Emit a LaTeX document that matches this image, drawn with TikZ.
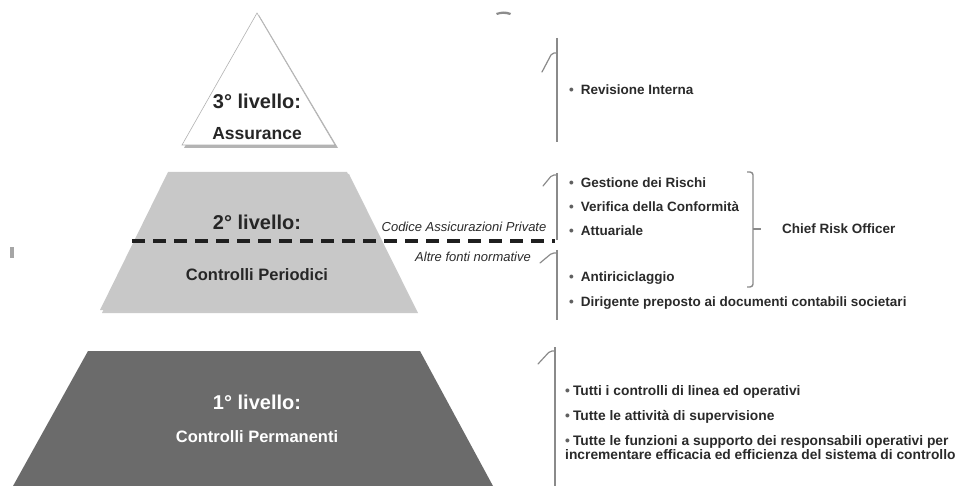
\documentclass[tikz,border=0pt]{standalone}
\usepackage{fontspec}
\setmainfont{Liberation Sans}
\definecolor{lightpyr}{HTML}{C8C8C8}
\definecolor{darkpyr}{HTML}{6B6B6B}
\definecolor{txtdark}{HTML}{262626}
\definecolor{itemc}{HTML}{2A2A2A}
\definecolor{brkgray}{HTML}{8A8A8A}
\definecolor{bulc}{HTML}{606060}
\definecolor{shadowc}{HTML}{B4B4B4}
\newcommand{\bul}{{\color{bulc}\textbullet}\hspace{7pt}}
\newcommand{\bulb}{{\color{bulc}\textbullet}\hspace{3pt}}
\begin{document}
\begin{tikzpicture}[x=1pt,y=-1pt,
  lvl/.style={font=\bfseries\fontsize{20}{24}\selectfont, text=txtdark, inner sep=0},
  sub/.style={font=\bfseries\fontsize{16.5}{20}\selectfont, text=txtdark, inner sep=0},
  item/.style={anchor=west, font=\bfseries\fontsize{13.5}{15}\selectfont, text=itemc, inner sep=0},
  itemb/.style={anchor=west, font=\bfseries\fontsize{13.8}{14}\selectfont, text=itemc, inner sep=0},
  law/.style={font=\itshape\fontsize{13}{15}\selectfont, text=itemc, inner sep=0},
  brk/.style={draw=brkgray, line width=1.4pt},
  hook/.style={draw=brkgray, line width=1.2pt, line cap=round, rounded corners=2pt},
  dashline/.style={draw=black!88, line width=3.5pt, dash pattern=on 13pt off 8pt}]
\useasboundingbox (0,0) rectangle (955,486);
% small artifacts
\fill[black!45] (496,13) .. controls (502,11) and (506,11) .. (511,13) -- (510,15) .. controls (505,13.5) and (501,13.5) .. (497,15) -- cycle;
\fill[black!35] (10,247) rectangle (14,258);
% level 3 triangle
\fill[shadowc] (259,15) -- (338,148) -- (184,148) -- cycle;
\draw[draw=black!30, fill=white, line width=0.6pt] (257,13) -- (335,145) -- (182,145) -- cycle;
% level 2 trapezoid
\fill[shadowc!70] (170,174) -- (349,174) -- (418,313) -- (102,313) -- cycle;
\fill[lightpyr] (168,172) -- (347,172) -- (415,310) -- (100,310) -- cycle;
% level 1 trapezoid
\fill[darkpyr] (88,351) -- (420,351) -- (493,486) -- (13,486) -- cycle;
% dashed separator
\coordinate (dashL) at (132,241);
\coordinate (dashR) at (555,241);
\draw[dashline] (dashL) -- (dashR);
% pyramid labels
\node[lvl] (l3) at (257,101) {3° livello:};
\node[sub, font=\bfseries\fontsize{17.5}{20}\selectfont] (l3s) at (257,134) {Assurance};
\node[lvl] (l2) at (257,222) {2° livello:};
\node[sub] (l2s) at (257,275) {Controlli Periodici};
\node[lvl, text=white] (l1) at (257,402) {1° livello:};
\node[sub, text=white] (l1s) at (257,437) {Controlli Permanenti};
% law labels
\node[law] (codice) at (464,227) {Codice Assicurazioni Private};
\node[law] (altre) at (473,257) {Altre fonti normative};
% brackets
\coordinate (b3t) at (557,38);  \coordinate (b3b) at (557,142);
\draw[brk] (b3t) -- (b3b);
\draw[hook] (557,53) -- (552,53) -- (542,72);
\coordinate (b2t) at (557,173); \coordinate (b2b) at (557,240);
\draw[brk] (b2t) -- (b2b);
\draw[hook] (557,175) -- (552,175) -- (543,186);
\coordinate (b2ct) at (557,250); \coordinate (b2cb) at (557,320);
\draw[brk] (b2ct) -- (b2cb);
\draw[hook] (557,253) -- (552,253) -- (540,263);
\coordinate (b1t) at (555,347); \coordinate (b1b) at (555,486);
\draw[brk] (b1t) -- (b1b);
\draw[hook] (555,351) -- (550,351) -- (538,364);
% right bracket
\draw[brk, rounded corners=3pt] (747,172) -- (753,172) -- (753,287) -- (747,287);
\coordinate (tickA) at (753,229); \coordinate (tickB) at (761,229);
\draw[brk] (tickA) -- (tickB);
% items
\node[item] (rev) at (569,90) {\bul Revisione Interna};
\node[item] (ges) at (569,183) {\bul Gestione dei Rischi};
\node[item] (ver) at (569,207) {\bul Verifica della Conformità};
\node[item] (att) at (569,231) {\bul Attuariale};
\node[item] (ant) at (569,278) {\bul Antiriciclaggio};
\node[item] (dir) at (569,303) {\bul Dirigente preposto ai documenti contabili societari};
\node[item] (cro) at (782,229) {Chief Risk Officer};
\node[itemb] (tut1) at (565,392) {\bulb Tutti i controlli di linea ed operativi};
\node[itemb] (tut2) at (565,417) {\bulb Tutte le attività di supervisione};
\node[itemb, align=left, anchor=north west] (tut3) at (565,435) {\bulb Tutte le funzioni a supporto dei responsabili operativi per\\incrementare efficacia ed efficienza del sistema di controllo};
\end{tikzpicture}
\end{document}
